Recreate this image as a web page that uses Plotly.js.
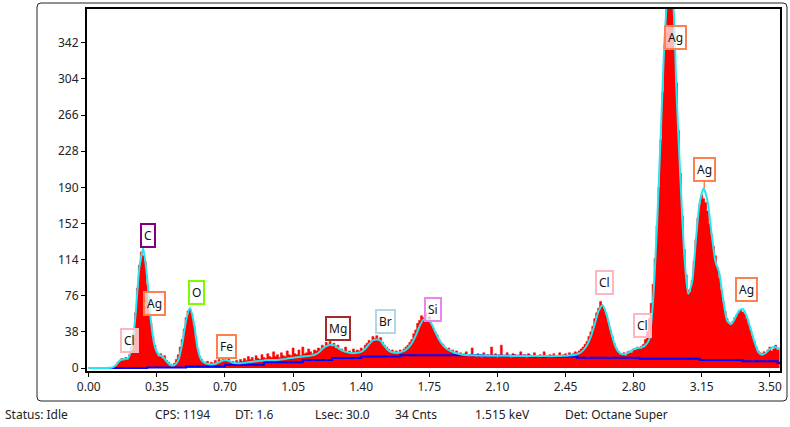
<!DOCTYPE html>
<html>
<head>
<meta charset="utf-8">
<script src="https://cdn.plot.ly/plotly-3.0.1.min.js"></script>
<style>
html,body{margin:0;padding:0;background:#fff;}
#chart{width:790px;height:427px;}
</style>
</head>
<body>
<div id="chart"></div>
<script>
// ---- Data ----
const specStart = 0.00, specStep = 0.01;
const spectrumCounts = [
0,0,0,0,0,0,0,0,0,0,0,0,0,
1,3,6,7,10,8,11,9,14,22,36,58,84,108,122,118,112,88,70,47,33,24,16,12,15,10,13,8,6,4,3,5,9,14,22,30,41,53,60,62,57,45,31,20,12,9,6,
5,7,4,6,5,8,6,9,7,10,9,8,11,6,7,5,8,6,9,7,10,8,12,9,11,8,13,10,9,14,11,10,15,12,11,17,12,14,11,16,
13,12,18,14,13,21,15,14,19,13,22,15,16,20,17,15,19,18,21,20,24,22,27,25,28,23,26,21,24,19,20,17,22,16,18,15,20,17,19,18,
21,19,24,26,29,28,33,31,34,30,32,27,24,22,20,18,19,16,18,15,19,17,20,22,24,27,30,36,40,47,50,55,53,58,52,54,46,42,38,35,
30,27,25,22,20,21,17,19,15,18,14,16,13,15,17,12,14,21,13,12,
15,13,11,16,12,14,13,22,12,15,11,14,24,13,12,16,13,11,15,14,12,13,17,12,14,11,15,13,12,16,13,11,14,12,17,13,11,14,12,15,
13,12,16,13,14,15,13,16,14,15,17,16,18,20,22,25,28,33,38,44,52,58,63,70,66,62,55,48,40,33,26,21,18,15,14,16,13,17,18,16,
20,19,22,21,23,25,30,38,52,68,88,115,150,190,240,290,340,385,410,415,
395,350,300,250,205,160,125,98,82,80,92,112,135,158,172,182,178,174,165,152,140,128,118,106,95,82,70,60,52,48,
47,49,53,56,58,61,59,57,52,46,40,34,28,22,18,16,15,17,16,19,22,18,20,24,19,21
];

const fitEnergy = [0.00,0.04,0.08,0.12,0.14,0.16,0.18,0.20,0.22,0.24,0.26,0.28,0.30,0.32,0.34,0.36,0.38,0.40,0.42,0.44,
0.46,0.48,0.50,0.52,0.54,0.56,0.58,0.60,0.62,0.64,0.66,0.68,0.70,0.72,0.74,0.76,0.78,0.80,0.82,0.84,
0.86,0.88,0.90,0.92,0.94,0.96,0.98,1.00,1.02,1.04,1.06,1.08,1.10,1.12,1.14,1.16,1.18,1.20,1.22,1.24,
1.26,1.28,1.30,1.32,1.34,1.36,1.38,1.40,1.42,1.44,1.46,1.48,1.50,1.52,1.54,1.56,1.58,1.60,1.62,1.64,
1.66,1.68,1.70,1.72,1.74,1.76,1.78,1.80,1.82,1.84,1.86,1.88,1.90,1.92,1.94,1.96,1.98,2.00,2.05,2.10,
2.15,2.20,2.25,2.30,2.35,2.40,2.44,2.48,2.50,2.52,2.54,2.56,2.58,2.60,2.62,2.64,2.66,2.68,2.70,2.72,
2.74,2.76,2.78,2.80,2.82,2.84,2.86,2.88,2.90,2.92,2.94,2.96,2.98,3.00,3.02,3.04,3.06,3.08,3.10,3.12,
3.14,3.16,3.18,3.20,3.22,3.24,3.26,3.28,3.30,3.32,3.34,3.36,3.38,3.40,3.42,3.44,3.46,3.48,3.50,3.52,3.54,3.555];
const fitCounts = [0,0,0,0.5,3,8,9.5,10,20,55,105,126,95,48,22,14,12,7,3,3,
8,25,50,63,48,20,8,5,4,4,5,7,8.5,7.5,5.5,5,5,5.5,6,6.5,
7,7.5,8,8.5,8.5,8.5,8.8,9.2,10,10.5,11,11.5,12,12.5,13,14,16,20,23,24.5,
24,21,18.5,17,16,15.5,16,17,20,25,29,30,28.5,23,18.5,16.5,16,16.5,18,21,
26,34,44,51,52,47,38,30,24,20,18,16,15,14,13.7,13.5,13.3,13.2,13,12.9,
12.8,12.7,12.6,12.6,12.5,12.5,12.8,13.5,14,15.5,18.5,24,33,46,60,66,57,41,26,17.5,
14.5,15,17,19.5,21,21.5,24,30,72,150,250,350,400,390,290,200,120,78,90,135,
175,189,175,142,112,100,72,50,46,52,60,62,55,42,28,17,14,16,20,22,21,19];

const bgEnergy = [0.00,0.13,0.30,0.50,0.70,0.90,1.10,1.25,1.40,1.60,1.80,2.02,2.27,2.51,2.83,3.14,3.36,3.54,3.555];
const bgCounts = [0,0,0.5,1.5,3.5,6,8.5,10.5,12,13.5,13.5,12.8,12.2,10.8,9.8,8.4,7,5.3,5.3];

const peakLabels  = ["Cl","C","Ag","O","Fe","Mg","Br","Si","Cl","Cl","Ag","Ag","Ag"];
const peakColors  = ["#FFB6C1","#800080","#FF7F50","#7CFC00","#FF7F50","#A52A2A","#ADD8E6","#EE82EE","#FFB6C1","#FFB6C1","#FF7F50","#FF7F50","#FF7F50"];
const labelEnergy = [0.207,0.304,0.339,0.555,0.707,1.279,1.527,1.770,2.651,2.844,3.016,3.163,3.382];
const labelCounts = [29.4,139.3,67.6,79.9,22.4,41.2,49.4,61.4,89.4,44.7,347.5,189,82.5];

const xTicks = [0.00,0.35,0.70,1.05,1.40,1.75,2.10,2.45,2.80,3.15,3.50];
const yTicks = [0,38,76,114,152,190,228,266,304,342];

const statusTexts = ["Status: Idle","CPS: 1194","DT: 1.6","Lsec: 30.0","34 Cnts","1.515 keV","Det: Octane Super"];
const statusX = [3,153,233,313,393,473,563];

// ---- Build ----
const specEnergy = spectrumCounts.map((_, i) => +(specStart + i * specStep).toFixed(2));
const FONT = "Noto Sans, Open Sans, DejaVu Sans, sans-serif";

const traces = [
  {x: specEnergy, y: spectrumCounts, type: "scatter", mode: "lines",
   line: {color: "#FF0000", width: 0.6, shape: "hvh"}, fill: "tozeroy", fillcolor: "#FF0000",
   hoverinfo: "skip", showlegend: false},
  {x: bgEnergy, y: bgCounts, type: "scatter", mode: "lines",
   line: {color: "#0000FF", width: 2, shape: "hv"}, showlegend: false},
  {x: fitEnergy, y: fitCounts, type: "scatter", mode: "lines",
   line: {color: "#22E6F0", width: 2, shape: "spline", smoothing: 0.6}, showlegend: false}
];

const L = 87, R = 10, T = 9, B = 56, W = 790, H = 427;
const pw = W - L - R, ph = H - T - B;
const px2paperX = px => (px - L) / pw;
const px2paperY = py => (H - B - py) / ph;

const annotations = peakLabels.map((t, i) => {
  const a = {x: labelEnergy[i], y: labelCounts[i], xref: "x", yref: "y", text: t,
    showarrow: false, font: {family: FONT, size: 12, color: "#111"},
    bgcolor: "rgba(255,255,255,0.72)", bordercolor: peakColors[i], borderwidth: 2, borderpad: 2};
  if (i === 11) { a.showarrow = true; a.arrowhead = 0; a.arrowcolor = peakColors[i]; a.arrowwidth = 1.5; a.ax = 0; a.ay = -19; }
  return a;
});
statusTexts.forEach((t, i) => annotations.push({
  x: px2paperX(statusX[i]), y: px2paperY(415), xref: "paper", yref: "paper", text: t,
  showarrow: false, xanchor: "left", yanchor: "middle",
  font: {family: FONT, size: 12, color: "#222"}
}));

// Outer rounded frame
const x0 = px2paperX(37), x1 = px2paperX(787), y0 = px2paperY(401), y1 = px2paperY(3);
const rx = 4 / pw, ry = 4 / ph;
const framePath = `M ${x0+rx},${y1} L ${x1-rx},${y1} Q ${x1},${y1} ${x1},${y1-ry} L ${x1},${y0+ry} Q ${x1},${y0} ${x1-rx},${y0} L ${x0+rx},${y0} Q ${x0},${y0} ${x0},${y0+ry} L ${x0},${y1-ry} Q ${x0},${y1} ${x0+rx},${y1} Z`;

const layout = {
  width: W, height: H,
  margin: {l: L, r: R, t: T, b: B},
  paper_bgcolor: "#fff", plot_bgcolor: "#fff",
  showlegend: false,
  font: {family: FONT, size: 12, color: "#222"},
  xaxis: {range: [-0.009, 3.552], tickvals: xTicks, ticktext: xTicks.map(v => v.toFixed(2)),
    showgrid: false, zeroline: false, showline: true, mirror: true, linecolor: "#000", linewidth: 2,
    ticks: "outside", ticklen: 4, tickcolor: "#000", tickfont: {family: FONT, size: 12, color: "#222"}},
  yaxis: {range: [-3.15, 377.5], tickvals: yTicks, ticktext: yTicks.map(String),
    showgrid: false, zeroline: false, showline: true, mirror: true, linecolor: "#000", linewidth: 2,
    ticks: "outside", ticklen: 4, tickcolor: "#000", tickfont: {family: FONT, size: 12, color: "#222"}},
  annotations: annotations,
  shapes: [{type: "path", xref: "paper", yref: "paper", path: framePath,
    line: {color: "#222", width: 1}, fillcolor: "rgba(0,0,0,0)", layer: "below"}]
};

Plotly.newPlot("chart", traces, layout, {staticPlot: true, displayModeBar: false});
</script>
</body>
</html>
